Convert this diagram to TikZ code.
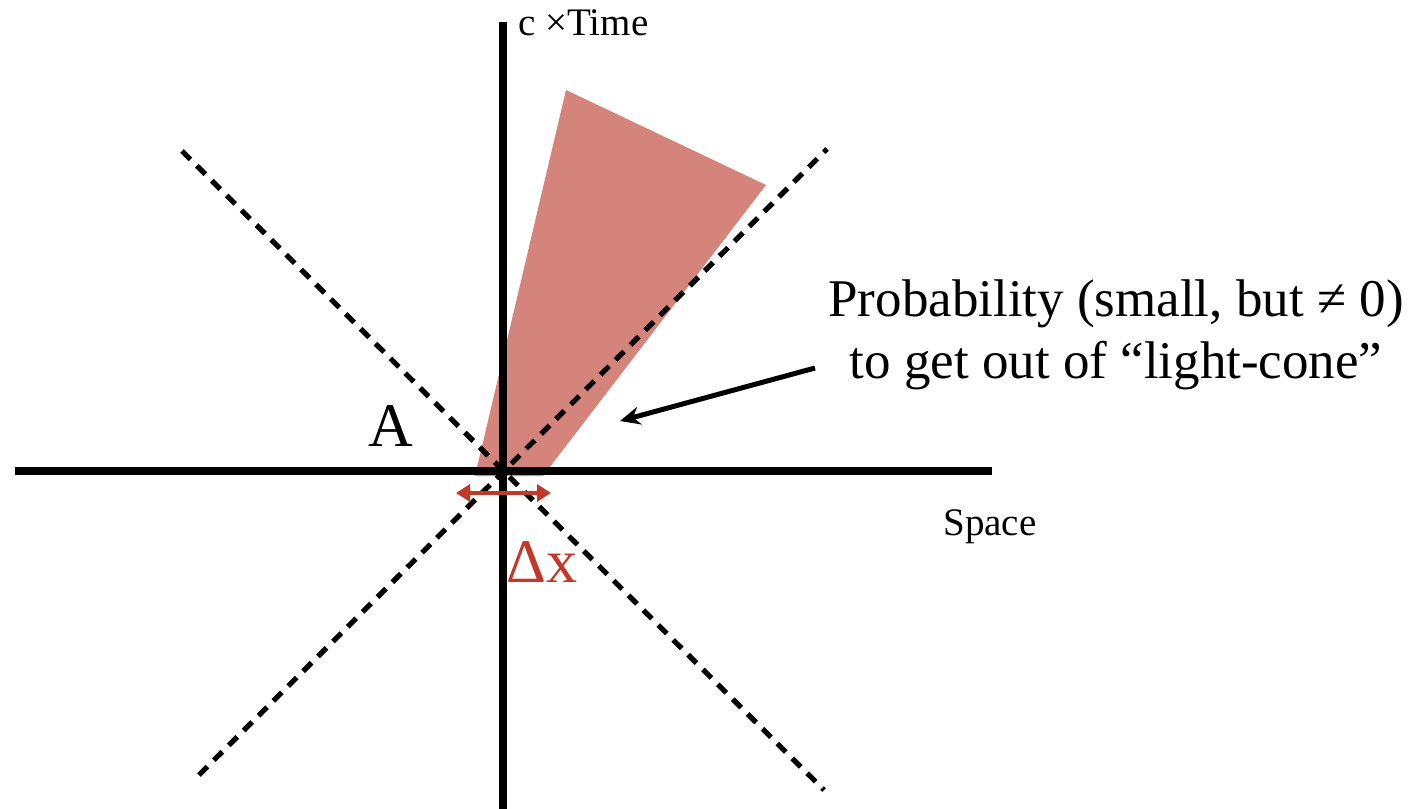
\documentclass[tikz,border=0pt]{standalone}
\usepackage{fontspec}
\setmainfont{Liberation Serif}
\usetikzlibrary{arrows.meta}
\definecolor{conefill}{RGB}{212,132,122}
\definecolor{dxred}{RGB}{192,57,43}
\tikzset{
  axis/.style={line width=3.8pt},
  cone/.style={line width=2.6pt,dash pattern=on 6pt off 4.5pt},
  lbl/.style={inner sep=0pt,font=\fontsize{19.5}{23}\selectfont},
  biglbl/.style={inner sep=0pt,font=\fontsize{31}{36}\selectfont}
}
\begin{document}
\begin{tikzpicture}[x=0.5pt,y=-0.5pt]
\useasboundingbox (0,0) rectangle (1426,809);
% axes ends and origin
\coordinate (O) at (503,471);
\coordinate (xl) at (15,471);
\coordinate (xr) at (992,471);
\coordinate (tt) at (503,22);
\coordinate (tb) at (503,809);
% light-cone ends
\coordinate (c1) at (182,151);
\coordinate (c2) at (824,790);
\coordinate (c3) at (199,775);
\coordinate (c4) at (827,149);
% shaded wedge
\fill[conefill] (475,476) -- (566,90) -- (766,185) -- (543,476) -- cycle;
\draw[cone] (c1) -- (c2);
\draw[cone] (c3) -- (c4);
\draw[axis] (xl) -- (xr);
\draw[axis] (tt) -- (tb);
% labels
\node[lbl,anchor=base west] (ctime) at (518,35) {c ×Time};
\node[lbl,anchor=base west] (space) at (943,535) {Space};
\node[biglbl,anchor=base west] (A) at (368,446) {A};
\node[biglbl,anchor=base west,text=dxred] (dx) at (506,582) {Δx};
\node[inner sep=0pt,align=center,font=\fontsize{26.5}{31}\selectfont] (prob) at (1116,335)
  {Probability (small, but ≠ 0)\\to get out of “light-cone”};
% spread of A
\coordinate (dl) at (456,493);
\coordinate (dr) at (551,493);
\draw[dxred,line width=2.3pt,{Triangle[length=7pt,width=8.5pt]}-{Triangle[length=7pt,width=8.5pt]}] (dl) -- (dr);
% pointer
\coordinate (ps) at (815,368);
\coordinate (pe) at (620,421);
\draw[line width=2.5pt,-{Stealth[length=10pt,width=9pt]}] (ps) -- (pe);
\end{tikzpicture}
\end{document}
